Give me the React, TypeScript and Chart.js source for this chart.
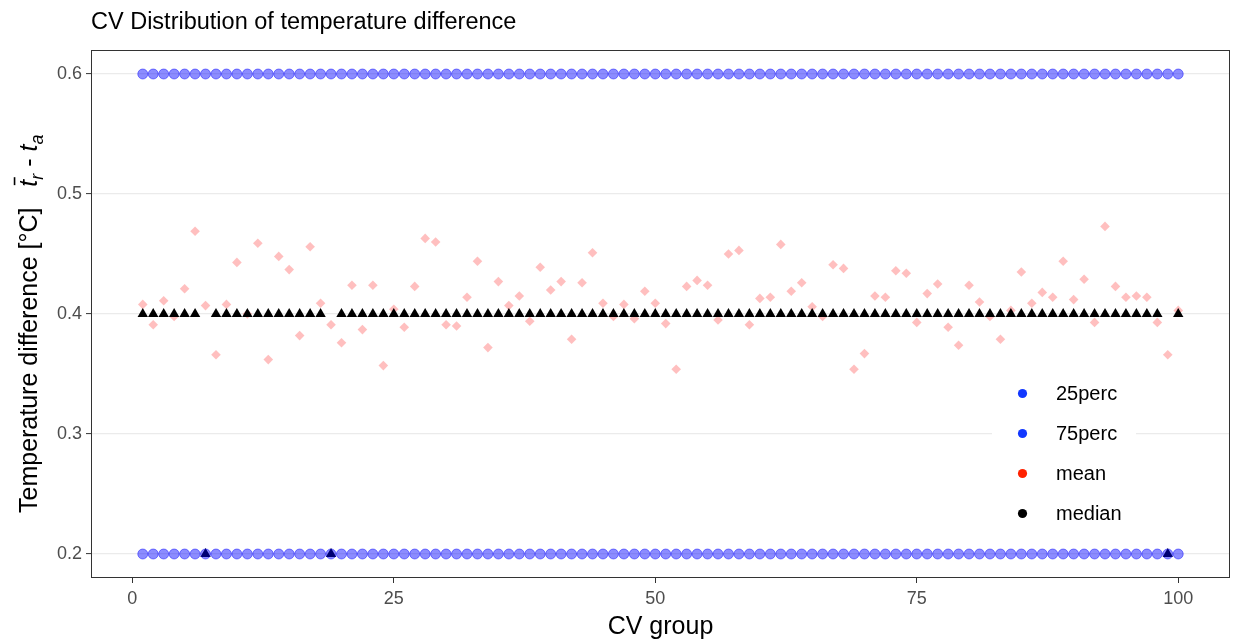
import { useEffect, useRef } from "react";
import { Chart, registerables } from "chart.js";

Chart.register(...registerables);

const FONT = '"Liberation Sans", Arial, Helvetica, sans-serif';

// CV groups along the x axis
const cvGroup = [
  1, 2, 3, 4, 5, 6, 7, 8, 9, 10, 11, 12, 13, 14, 15, 16, 17, 18, 19, 20,
  21, 22, 23, 24, 25, 26, 27, 28, 29, 30, 31, 32, 33, 34, 35, 36, 37, 38, 39, 40,
  41, 42, 43, 44, 45, 46, 47, 48, 49, 50, 51, 52, 53, 54, 55, 56, 57, 58, 59, 60,
  61, 62, 63, 64, 65, 66, 67, 68, 69, 70, 71, 72, 73, 74, 75, 76, 77, 78, 79, 80,
  81, 82, 83, 84, 85, 86, 87, 88, 89, 90, 91, 92, 93, 94, 95, 96, 97, 98, 99, 100,
];

// 25th percentile per group
const perc25 = [
  0.2, 0.2, 0.2, 0.2, 0.2, 0.2, 0.2, 0.2, 0.2, 0.2, 0.2, 0.2, 0.2, 0.2, 0.2, 0.2, 0.2, 0.2, 0.2, 0.2,
  0.2, 0.2, 0.2, 0.2, 0.2, 0.2, 0.2, 0.2, 0.2, 0.2, 0.2, 0.2, 0.2, 0.2, 0.2, 0.2, 0.2, 0.2, 0.2, 0.2,
  0.2, 0.2, 0.2, 0.2, 0.2, 0.2, 0.2, 0.2, 0.2, 0.2, 0.2, 0.2, 0.2, 0.2, 0.2, 0.2, 0.2, 0.2, 0.2, 0.2,
  0.2, 0.2, 0.2, 0.2, 0.2, 0.2, 0.2, 0.2, 0.2, 0.2, 0.2, 0.2, 0.2, 0.2, 0.2, 0.2, 0.2, 0.2, 0.2, 0.2,
  0.2, 0.2, 0.2, 0.2, 0.2, 0.2, 0.2, 0.2, 0.2, 0.2, 0.2, 0.2, 0.2, 0.2, 0.2, 0.2, 0.2, 0.2, 0.2, 0.2,
];

// 75th percentile per group
const perc75 = [
  0.6, 0.6, 0.6, 0.6, 0.6, 0.6, 0.6, 0.6, 0.6, 0.6, 0.6, 0.6, 0.6, 0.6, 0.6, 0.6, 0.6, 0.6, 0.6, 0.6,
  0.6, 0.6, 0.6, 0.6, 0.6, 0.6, 0.6, 0.6, 0.6, 0.6, 0.6, 0.6, 0.6, 0.6, 0.6, 0.6, 0.6, 0.6, 0.6, 0.6,
  0.6, 0.6, 0.6, 0.6, 0.6, 0.6, 0.6, 0.6, 0.6, 0.6, 0.6, 0.6, 0.6, 0.6, 0.6, 0.6, 0.6, 0.6, 0.6, 0.6,
  0.6, 0.6, 0.6, 0.6, 0.6, 0.6, 0.6, 0.6, 0.6, 0.6, 0.6, 0.6, 0.6, 0.6, 0.6, 0.6, 0.6, 0.6, 0.6, 0.6,
  0.6, 0.6, 0.6, 0.6, 0.6, 0.6, 0.6, 0.6, 0.6, 0.6, 0.6, 0.6, 0.6, 0.6, 0.6, 0.6, 0.6, 0.6, 0.6, 0.6,
];

// Mean temperature difference per group
const meanValues = [
  0.408, 0.391, 0.411, 0.398, 0.421, 0.469, 0.407, 0.366, 0.408, 0.443,
  0.400, 0.459, 0.362, 0.448, 0.437, 0.382, 0.456, 0.409, 0.391, 0.376,
  0.424, 0.387, 0.424, 0.357, 0.404, 0.389, 0.423, 0.463, 0.460, 0.391,
  0.390, 0.414, 0.444, 0.372, 0.427, 0.407, 0.415, 0.394, 0.439, 0.420,
  0.427, 0.379, 0.426, 0.451, 0.409, 0.398, 0.408, 0.396, 0.419, 0.409,
  0.392, 0.354, 0.423, 0.428, 0.424, 0.395, 0.450, 0.453, 0.391, 0.413,
  0.414, 0.458, 0.419, 0.426, 0.406, 0.398, 0.441, 0.438, 0.354, 0.367,
  0.415, 0.414, 0.436, 0.434, 0.393, 0.417, 0.425, 0.389, 0.374, 0.424,
  0.410, 0.398, 0.379, 0.403, 0.435, 0.409, 0.418, 0.414, 0.444, 0.412,
  0.429, 0.393, 0.473, 0.423, 0.414, 0.415, 0.414, 0.393, 0.366, 0.403,
];

// Median temperature difference per group
const medianValues = [
  0.4, 0.4, 0.4, 0.4, 0.4, 0.4, 0.2, 0.4, 0.4, 0.4, 0.4, 0.4, 0.4, 0.4, 0.4, 0.4, 0.4, 0.4, 0.2, 0.4,
  0.4, 0.4, 0.4, 0.4, 0.4, 0.4, 0.4, 0.4, 0.4, 0.4, 0.4, 0.4, 0.4, 0.4, 0.4, 0.4, 0.4, 0.4, 0.4, 0.4,
  0.4, 0.4, 0.4, 0.4, 0.4, 0.4, 0.4, 0.4, 0.4, 0.4, 0.4, 0.4, 0.4, 0.4, 0.4, 0.4, 0.4, 0.4, 0.4, 0.4,
  0.4, 0.4, 0.4, 0.4, 0.4, 0.4, 0.4, 0.4, 0.4, 0.4, 0.4, 0.4, 0.4, 0.4, 0.4, 0.4, 0.4, 0.4, 0.4, 0.4,
  0.4, 0.4, 0.4, 0.4, 0.4, 0.4, 0.4, 0.4, 0.4, 0.4, 0.4, 0.4, 0.4, 0.4, 0.4, 0.4, 0.4, 0.4, 0.2, 0.4,
];

const xTickValues = [0, 25, 50, 75, 100];
const yTickValues = [0.2, 0.3, 0.4, 0.5, 0.6];

const titleText = "CV Distribution of temperature difference";
const xTitleText = "CV group";
const yTitleText = "Temperature difference [°C]";

const legendItems = [
  { label: "25perc", color: "#1238ff" },
  { label: "75perc", color: "#1238ff" },
  { label: "mean", color: "#ff2200" },
  { label: "median", color: "#000000" },
];

const toPoints = (ys: number[]) => cvGroup.map((x, i) => ({ x, y: ys[i] }));

// Panel frame, legend, title and the rotated y-axis title with its formula
const decorations = {
  id: "decorations",
  afterDatasetsDraw(chart: any) {
    const { ctx, chartArea } = chart;
    ctx.save();
    ctx.strokeStyle = "#333333";
    ctx.lineWidth = 1;
    ctx.strokeRect(
      chartArea.left + 0.5,
      chartArea.top + 0.5,
      chartArea.right - chartArea.left - 1,
      chartArea.bottom - chartArea.top - 1
    );

    // legend inside the panel
    ctx.fillStyle = "#ffffff";
    ctx.fillRect(992, 373, 144, 161);
    ctx.font = `20px ${FONT}`;
    ctx.textBaseline = "middle";
    ctx.textAlign = "left";
    legendItems.forEach((item, k) => {
      const cy = 393.5 + 40 * k;
      ctx.beginPath();
      ctx.arc(1022.5, cy, 4.6, 0, Math.PI * 2);
      ctx.fillStyle = item.color;
      ctx.fill();
      ctx.fillStyle = "#000000";
      ctx.fillText(item.label, 1056, cy + 1);
    });
    ctx.restore();
  },
  afterDraw(chart: any) {
    const { ctx } = chart;
    ctx.save();
    ctx.fillStyle = "#000000";
    ctx.textAlign = "left";
    ctx.textBaseline = "alphabetic";
    ctx.font = `23.5px ${FONT}`;
    ctx.fillText(titleText, 91, 29);

    // y-axis title: text followed by  t̄_r - t_a
    const size = 25;
    ctx.translate(37, 513);
    ctx.rotate(-Math.PI / 2);
    let x = 0;
    const seg = (text: string, font: string, dy = 0) => {
      ctx.font = font;
      ctx.fillText(text, x, dy);
      const w = ctx.measureText(text).width;
      x += w;
      return w;
    };
    seg(yTitleText + "   ", `${size}px ${FONT}`);
    const tStart = x;
    const tw = seg("t", `italic ${size}px ${FONT}`);
    ctx.fillRect(tStart + 1.5, -size * 0.93, tw + 1, 1.6);
    seg("r", `italic ${size * 0.72}px ${FONT}`, size * 0.22);
    seg(" - ", `${size}px ${FONT}`);
    seg("t", `italic ${size}px ${FONT}`);
    seg("a", `italic ${size * 0.72}px ${FONT}`, size * 0.22);
    ctx.restore();
  },
};

export default function App() {
  const canvasRef = useRef<HTMLCanvasElement | null>(null);

  useEffect(() => {
    const canvas = canvasRef.current;
    if (!canvas) return;
    Chart.defaults.font.family = FONT;

    const chart = new Chart(canvas, {
      type: "scatter",
      data: {
        datasets: [
          {
            label: "25perc",
            data: toPoints(perc25),
            pointStyle: "circle",
            pointRadius: 5,
            backgroundColor: "rgba(0,0,255,0.45)",
            borderColor: "rgba(0,0,255,0.45)",
            borderWidth: 1,
            order: 1,
          },
          {
            label: "75perc",
            data: toPoints(perc75),
            pointStyle: "circle",
            pointRadius: 5,
            backgroundColor: "rgba(0,0,255,0.45)",
            borderColor: "rgba(0,0,255,0.45)",
            borderWidth: 1,
            order: 1,
          },
          {
            label: "mean",
            data: toPoints(meanValues),
            pointStyle: "rectRot",
            pointRadius: 4.8,
            backgroundColor: "rgba(255,0,0,0.25)",
            borderWidth: 0,
            order: 3,
          },
          {
            label: "median",
            data: toPoints(medianValues),
            pointStyle: "triangle",
            pointRadius: 6,
            backgroundColor: "#000000",
            borderWidth: 0,
            order: 2,
          },
        ],
      },
      options: {
        animation: false,
        responsive: false,
        devicePixelRatio: 1,
        layout: { padding: { left: 0, right: 3, top: 50, bottom: 0 } },
        plugins: {
          legend: { display: false },
          tooltip: { enabled: false },
          title: { display: false },
        },
        scales: {
          x: {
            type: "linear",
            min: -3.95,
            max: 104.95,
            afterFit: (s: any) => {
              s.height = 64;
            },
            afterBuildTicks: (s: any) => {
              s.ticks = xTickValues.map((v) => ({ value: v }));
            },
            grid: {
              drawOnChartArea: false,
              tickColor: "#333333",
              tickLength: 5,
              tickWidth: 1,
            },
            border: { display: false },
            ticks: {
              color: "#4d4d4d",
              font: { size: 18, family: FONT },
              padding: 5,
              maxRotation: 0,
              autoSkip: false,
              callback: (v: any) => String(v),
            },
            title: {
              display: true,
              text: xTitleText,
              color: "#000000",
              font: { size: 25, family: FONT },
              padding: { top: 0, bottom: 0 },
            },
          },
          y: {
            type: "linear",
            min: 0.18,
            max: 0.62,
            afterFit: (s: any) => {
              s.width = 91;
            },
            afterBuildTicks: (s: any) => {
              s.ticks = yTickValues.map((v) => ({ value: v }));
            },
            grid: {
              color: "#ebebeb",
              lineWidth: 1.2,
              tickColor: "#333333",
              tickLength: 5,
              tickWidth: 1,
            },
            border: { display: false },
            ticks: {
              color: "#4d4d4d",
              font: { size: 18, family: FONT },
              padding: 4,
              autoSkip: false,
              callback: (v: any) => Number(v).toFixed(1),
            },
          },
        },
      },
      plugins: [decorations],
    });

    return () => chart.destroy();
  }, []);

  return (
    <div
      style={{
        position: "absolute",
        left: 0,
        top: 0,
        width: 1236,
        height: 642,
        background: "#ffffff",
      }}
    >
      <canvas ref={canvasRef} width={1236} height={642} style={{ display: "block" }} />
    </div>
  );
}
